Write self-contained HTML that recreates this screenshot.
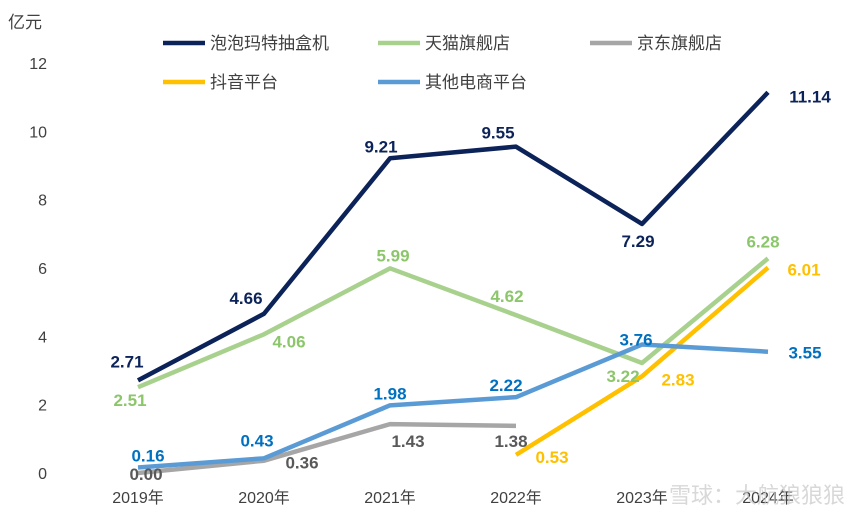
<!DOCTYPE html>
<html><head><meta charset="utf-8"><style>
body{margin:0;background:#fff;}
svg text{font-family:"Liberation Sans","Noto Sans CJK SC",sans-serif;}
</style></head><body>
<svg id="chart" width="857" height="514" xmlns="http://www.w3.org/2000/svg"></svg>
<script>
const categories=["2019年","2020年","2021年","2022年","2023年","2024年"];
const yTicks=[0,2,4,6,8,10,12];
const popmart=[2.71,4.66,9.21,9.55,7.29,11.14];
const tmall=[2.51,4.06,5.99,4.62,3.22,6.28];
const jd=[0.00,0.36,1.43,1.38,null,null];
const douyin=[null,null,null,0.53,2.83,6.01];
const others=[0.16,0.43,1.98,2.22,3.76,3.55];

const svg=document.getElementById('chart');
const NS="http://www.w3.org/2000/svg";
function x(i){return 138+i*126;}
function y(v){return 473-v*34.17;}
function mk(tag,attrs,parent){const e=document.createElementNS(NS,tag);for(const k in attrs)e.setAttribute(k,attrs[k]);(parent||svg).appendChild(e);return e;}

// unit label
let t=mk('text',{x:8,y:28,'font-size':17,fill:'#404040'});t.textContent='亿元';


yTicks.forEach(v=>{const e=mk('text',{x:47,y:y(v)+6,'font-size':16,fill:'#404040','text-anchor':'end'});e.textContent=v;

});
categories.forEach((c,i)=>{const e=mk('text',{x:x(i),y:503,'font-size':16,fill:'#404040','text-anchor':'middle'});e.textContent=c;

});

// watermark
const wm=mk('text',{x:845,y:503,'font-size':22,fill:'#c8c8c8','text-anchor':'end','opacity':0.7});wm.textContent='雪球：大航狼狼狼';



const series=[
 {name:'popmart',data:popmart,color:'#0c2359',lc:'#0c2359',off:[[-11,-19],[-18,-16],[-9,-12],[-18,-14],[-4,17],[42,4]]},
 {name:'tmall',data:tmall,color:'#a9d18e',lc:'#8cc66b',off:[[-8,13],[25,7],[3,-13],[-9,-19],[-19,13],[-5,-17]]},
 {name:'jd',data:jd,color:'#a6a6a6',lc:'#595959',off:[[8,1],[38,2],[18,17],[-5,15],[0,0],[0,0]]},
 {name:'douyin',data:douyin,color:'#ffc000',lc:'#ffc000',off:[[0,0],[0,0],[0,0],[36,2],[36,3],[36,2]]},
 {name:'others',data:others,color:'#5b9bd5',lc:'#0070c0',off:[[10,-12],[-7,-18],[0,-12],[-10,-12],[-6,-5],[37,1]]}
];
series.forEach(s=>{
 const pts=[];s.data.forEach((v,i)=>{if(v!==null)pts.push(x(i)+','+y(v));});
 const p=mk('polyline',{points:pts.join(' '),fill:'none',stroke:s.color,'stroke-width':4.5,'stroke-linejoin':'round'});
 
 
});
series.forEach(s=>{
 s.data.forEach((v,i)=>{if(v===null)return;
  const e=mk('text',{x:x(i)+s.off[i][0],y:y(v)+s.off[i][1]+6,'font-size':17,'font-weight':'bold',fill:s.lc,'text-anchor':'middle'});
  e.textContent=v.toFixed(2);
  
  
 });
});
// legend
const legend=[['泡泡玛特抽盒机','#0c2359',163,43],['天猫旗舰店','#a9d18e',378,43],['京东旗舰店','#a6a6a6',590,43],['抖音平台','#ffc000',163,82],['其他电商平台','#5b9bd5',378,82]];
legend.forEach(l=>{
 const g=mk('g',{});
 
 
 mk('line',{x1:l[2],x2:l[2]+42,y1:l[3],y2:l[3],stroke:l[1],'stroke-width':4.5},g);
 const e=mk('text',{x:l[2]+47,y:l[3]+6,'font-size':17,fill:'#404040'},g);e.textContent=l[0];
});
</script>
</body></html>
